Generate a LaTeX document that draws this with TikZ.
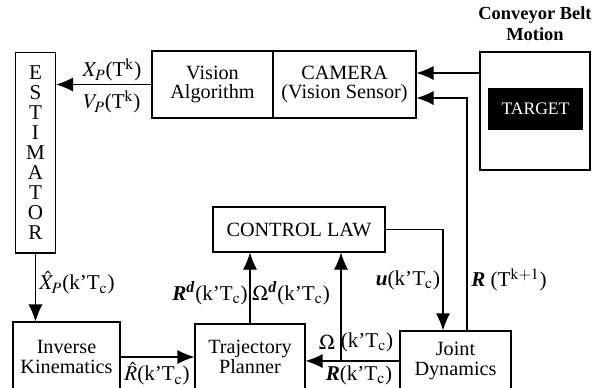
\documentclass[tikz,border=0pt]{standalone}
\usepackage{mathptmx}
\usepackage{fontspec}
\setmainfont{Liberation Serif}
\usetikzlibrary{arrows.meta}
\newcommand{\kTc}{(k'T$_{\mathrm{c}}$)}
\newcommand{\bi}[1]{\textbf{\textit{#1}}}
\begin{document}
\begin{tikzpicture}[x=0.02cm,y=-0.02cm,
    font=\fontsize{11.5}{11}\selectfont,
    block/.style={draw,line width=0.6pt,inner sep=0pt,align=center},
    sig/.style={line width=0.6pt,-{Latex[length=3.4mm,width=2.8mm]}},
    lbl/.style={inner sep=0pt,font=\fontsize{12}{12}\selectfont}]
    \clip (0,0) rectangle (600,387);
    \useasboundingbox (0,0) rectangle (600,387);
    \node[block,minimum width=0.8cm,minimum height=4.02cm,font=\fontsize{12}{11.4}\selectfont] (est) at (35.5,152.5) {E\\S\\T\\I\\M\\A\\T\\O\\R};
    \node[block,minimum width=2.42cm,minimum height=1.34cm] (va) at (212.5,84.5) {Vision\\Algorithm};
    \node[block,minimum width=2.86cm,minimum height=1.34cm] (cam) at (344.5,84.5) {CAMERA\\(Vision Sensor)};
    \node[block,minimum width=2.2cm,minimum height=2.36cm] (belt) at (535,111) {};
    \node[fill=black,text=white,inner sep=0pt,minimum width=1.9cm,minimum height=0.84cm,font=\fontsize{10}{10}\selectfont] (target) at (535.5,109) {TARGET};
    \node[inner sep=0pt,align=center,font=\bfseries\fontsize{10.5}{12}\selectfont] (title) at (535,24) {Conveyor Belt\\Motion};
    \node[block,minimum width=3.44cm,minimum height=0.9cm] (cl) at (299,229.5) {CONTROL LAW};
    \node[block,minimum width=2.14cm,minimum height=1.4cm] (ik) at (66.5,357) {Inverse\\Kinematics};
    \node[block,minimum width=2.2cm,minimum height=1.32cm] (tp) at (250,357) {Trajectory\\Planner};
    \node[block,minimum width=2.22cm,minimum height=1.2cm] (jd) at (455.5,361) {Joint\\Dynamics};
    \coordinate (b1) at ([yshift=0.23cm]cam.east);
    \coordinate (b2) at ([yshift=-0.27cm]cam.east);
    \coordinate (j1) at (341,361);
    \draw[sig] (va.west) -- (va.west -| est.east);
    \draw[sig] (belt.west |- b1) -- (b1);
    \draw[sig] ([xshift=0.23cm]jd.north) |- (b2);
    \draw[sig] (est.south) -- (ik.north -| est.south);
    \draw[sig] (ik.east) -- (ik.east -| tp.west);
    \draw[sig] (jd.west) -- (jd.west -| tp.east);
    \draw[sig] (j1) -- (j1 |- cl.south);
    \draw[sig] (tp.north) -- (tp.north |- cl.south);
    \draw[sig] (cl.east) -| ([xshift=-0.25cm]jd.north);
    \node[lbl] (xp) at (112,70) {$X_P$(T$^{\mathrm{k}}$)};
    \node[lbl] (vp) at (112,102) {$V_P$(T$^{\mathrm{k}}$)};
    \node[lbl] (xhat) at (77,283) {$\hat{X}_P$\kTc};
    \node[lbl] (rhat) at (157,374) {$\hat{R}$\kTc};
    \node[lbl] (rd) at (210,293) {\bi{R}\textsuperscript{\bi{d}}\kTc};
    \node[lbl] (od) at (291,293) {$\Omega$\textsuperscript{\bi{d}}\kTc};
    \node[lbl] (u) at (408,280) {\bi{u}\kTc};
    \node[lbl] (rk) at (509,280) {\bi{R} (T$^{\mathrm{k+1}}$)};
    \node[lbl] (om) at (327,342) {$\Omega$};
    \node[lbl] (omk) at (367,342) {\kTc};
    \node[lbl] (r) at (359,375) {\bi{R}\kTc};
\end{tikzpicture}
\end{document}
